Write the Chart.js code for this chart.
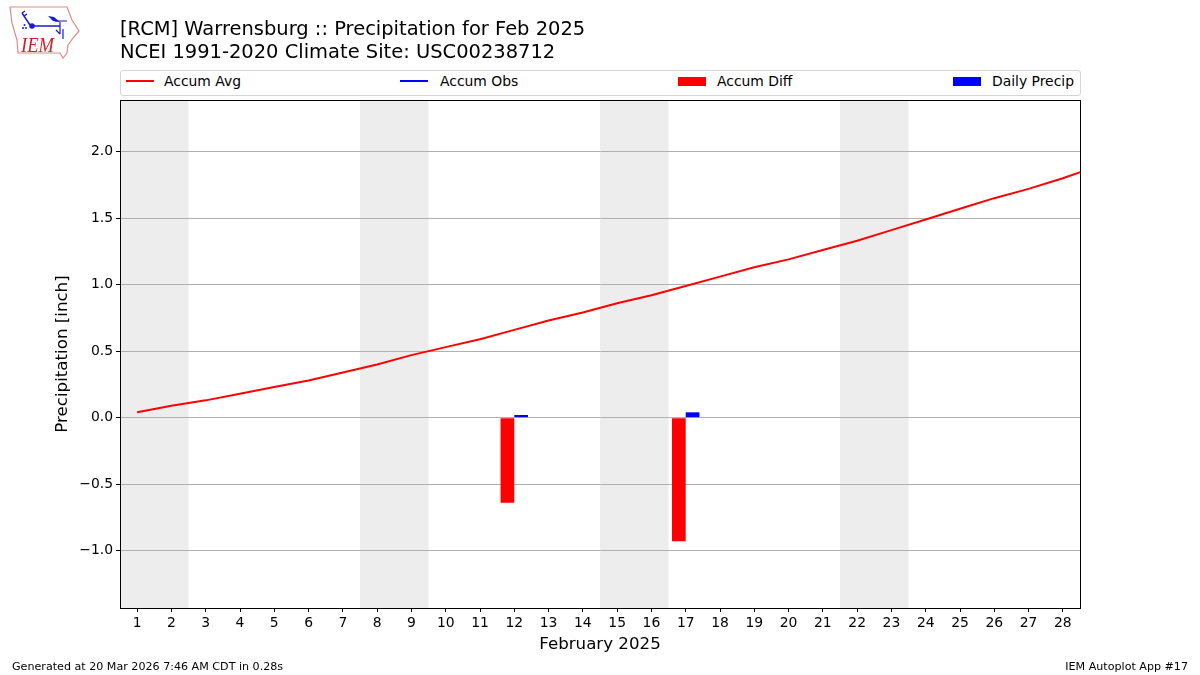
<!DOCTYPE html>
<html>
<head>
<meta charset="utf-8">
<title>Warrensburg Precipitation Feb 2025</title>
<script src="https://cdn.jsdelivr.net/npm/chart.js@4"></script>
<style>
    html, body { margin: 0; padding: 0; background: #fff; }
    body { width: 1200px; height: 675px; position: relative; overflow: hidden; font-family: "DejaVu Sans", sans-serif; color: #000; }
    #chart-wrap { position: absolute; left: 0; top: 0; width: 1200px; height: 675px; }
    .abs { position: absolute; white-space: nowrap; }
    #title { left: 120px; top: 18px; font-size: 19.48px; line-height: 22.5px; }
    #legend { left: 120px; top: 70px; width: 959px; height: 24px; border: 1px solid #d5d5d5; border-radius: 3px; background: #fff; }
    .leg-label { font-size: 13.9px; line-height: 16px; top: 2px; }
    .leg-line { top: 9px; width: 28px; height: 2px; }
    .leg-rect { top: 6px; width: 28px; height: 9px; }
    #footer-left { left: 12px; top: 660px; font-size: 11.12px; line-height: 13px; }
    #footer-right { right: 12px; top: 660px; font-size: 11.12px; line-height: 13px; }
    #logo { left: 8px; top: 5px; }
</style>
</head>
<body>
<div id="chart-wrap"><canvas id="precip-chart" width="1200" height="675"></canvas></div>

<svg id="logo" class="abs" width="72" height="54" viewBox="0 0 72 54">
    <path d="M2 2 L59 2 L64 15 L71 26 L65 33 L60 40 L59 48 L55 53 L52 48 L10 48 L9 35 L4 18 Z" fill="none" stroke="#e08a8a" stroke-width="1.2"/>
    <path d="M14 8 L22 20 M14 8 L17 6 M16 11 L19 9 M24 21 L52 21" fill="none" stroke="#1a1ad0" stroke-width="1.5"/>
    <circle cx="24" cy="21" r="2.8" fill="#1a1ad0"/>
    <circle cx="15" cy="23" r="1" fill="#1a1ad0"/>
    <circle cx="18" cy="23" r="1" fill="#1a1ad0"/>
    <circle cx="16.5" cy="20" r="1" fill="#1a1ad0"/>
    <path d="M40 11 L46 12 L52 17 L45 16 Z" fill="#1a1ad0"/>
    <path d="M47 16 L59 16 M52 17 L52 29 M48 25 L52 29 M55 24 L55 34" fill="none" stroke="#1a1ad0" stroke-width="1.2"/>
    <text x="13" y="47" font-family="Liberation Serif" font-style="italic" font-size="21" textLength="33" lengthAdjust="spacingAndGlyphs" fill="#d62028">IEM</text>
</svg>

<div id="title" class="abs">[RCM] Warrensburg :: Precipitation for Feb 2025<br>NCEI 1991-2020 Climate Site: USC00238712</div>
<div id="legend" class="abs"></div>
<div id="footer-left" class="abs">Generated at 20 Mar 2026 7:46 AM CDT in 0.28s</div>
<div id="footer-right" class="abs">IEM Autoplot App #17</div>

<script>
// values, inch
const days = [1, 2, 3, 4, 5, 6, 7, 8, 9, 10, 11, 12, 13, 14, 15, 16, 17, 18, 19, 20, 21, 22, 23, 24, 25, 26, 27, 28, 29];
const accumAvg = [0.04, 0.09, 0.13, 0.18, 0.23, 0.28, 0.34, 0.40, 0.47, 0.53, 0.59, 0.66, 0.73, 0.79, 0.86, 0.92, 0.99, 1.06, 1.13, 1.19, 1.26, 1.33, 1.41, 1.49, 1.57, 1.65, 1.72, 1.80, 1.89];
const accumObs = [];
const accumDiff = [null, null, null, null, null, null, null, null, null, null, null, -0.64, null, null, null, null, -0.93];
const dailyPrecip = [null, null, null, null, null, null, null, null, null, null, null, 0.02, null, null, null, null, 0.04];

const xTickValues = [1, 2, 3, 4, 5, 6, 7, 8, 9, 10, 11, 12, 13, 14, 15, 16, 17, 18, 19, 20, 21, 22, 23, 24, 25, 26, 27, 28];
const yTickValues = [-1, -0.5, 0, 0.5, 1, 1.5, 2];
const yTickLabels = ['\u22121.0', '\u22120.5', '0.0', '0.5', '1.0', '1.5', '2.0'];
const weekendBands = [[0.5, 2.5], [7.5, 9.5], [14.5, 16.5], [21.5, 23.5]];

const AXIS_FONT = { family: '"DejaVu Sans"', size: 13.9 };
const LABEL_FONT = { family: '"DejaVu Sans"', size: 16.67 };

const bandsPlugin = {
    id: 'weekendBands',
    beforeDraw(chart) {
        const { ctx, chartArea, scales } = chart;
        ctx.save();
        ctx.fillStyle = '#ededed';
        weekendBands.forEach(function (band) {
            const x0 = scales.x.getPixelForValue(band[0]);
            const x1 = scales.x.getPixelForValue(band[1]);
            ctx.fillRect(x0, chartArea.top, x1 - x0, chartArea.bottom - chartArea.top);
        });
        ctx.restore();
    }
};

const framePlugin = {
    id: 'axesFrame',
    afterDatasetsDraw(chart) {
        const { ctx, chartArea } = chart;
        ctx.save();
        ctx.strokeStyle = '#000';
        ctx.lineWidth = 1;
        ctx.strokeRect(chartArea.left + 0.5, chartArea.top + 0.5, chartArea.right - chartArea.left, chartArea.bottom - chartArea.top);
        ctx.restore();
    }
};

const chart = new Chart(document.getElementById('precip-chart').getContext('2d'), {
    type: 'bar',
    data: {
        labels: days,
        datasets: [
            { type: 'line', label: 'Accum Avg', data: accumAvg, borderColor: '#ff0000', backgroundColor: '#ff0000', borderWidth: 2, pointRadius: 0, tension: 0, order: 1 },
            { type: 'line', label: 'Accum Obs', data: accumObs, borderColor: '#0000ff', backgroundColor: '#0000ff', borderWidth: 2, pointRadius: 0, tension: 0, order: 2 },
            { label: 'Accum Diff', data: accumDiff, backgroundColor: '#ff0000', categoryPercentage: 0.8, barPercentage: 1, order: 3 },
            { label: 'Daily Precip', data: dailyPrecip, backgroundColor: '#0000ff', categoryPercentage: 0.8, barPercentage: 1, order: 4 }
        ]
    },
    options: {
        responsive: false,
        animation: false,
        layout: { padding: { left: 53, right: 120, top: 100, bottom: 20 } },
        plugins: {
            legend: { display: false },
            tooltip: { enabled: false }
        },
        scales: {
            x: {
                type: 'linear',
                offset: false,
                min: 0.5,
                max: 28.5,
                afterBuildTicks(scale) { scale.ticks = xTickValues.map(function (v) { return { value: v }; }); },
                afterFit(scale) { scale.height = 47; },
                grid: { drawOnChartArea: false, tickLength: 4, tickColor: '#000', offset: false },
                border: { color: '#000' },
                ticks: { color: '#000', font: AXIS_FONT, padding: 3, autoSkip: false, maxRotation: 0, callback(v) { return String(v); } },
                title: { display: true, text: 'February 2025', color: '#000', font: LABEL_FONT, padding: 0 }
            },
            y: {
                min: -1.431,
                max: 2.388,
                afterBuildTicks(scale) { scale.ticks = yTickValues.map(function (v) { return { value: v }; }); },
                afterFit(scale) { scale.width = 67; },
                grid: { color: '#b0b0b0', tickLength: 4, tickColor: '#000', lineWidth: 1 },
                border: { color: '#000' },
                ticks: { color: '#000', font: AXIS_FONT, padding: 3, callback(v) { return yTickLabels[yTickValues.indexOf(v)]; } },
                title: { display: true, text: 'Precipitation [inch]', color: '#000', font: LABEL_FONT, padding: 0 }
            }
        }
    },
    plugins: [bandsPlugin, framePlugin]
});

// legend strip, matplotlib "expand" style, built from the chart's own datasets
const legendX = [5, 279, 557, 832];
const legendTextX = [43, 319, 596, 871];
const legendBox = document.getElementById('legend');
chart.data.datasets.forEach(function (ds, i) {
    const swatch = document.createElement('div');
    swatch.className = 'abs ' + (ds.type === 'line' ? 'leg-line' : 'leg-rect');
    swatch.style.left = legendX[i] + 'px';
    swatch.style.background = ds.backgroundColor;
    legendBox.appendChild(swatch);
    const label = document.createElement('div');
    label.className = 'abs leg-label';
    label.style.left = legendTextX[i] + 'px';
    label.textContent = ds.label;
    legendBox.appendChild(label);
});
</script>
</body>
</html>
